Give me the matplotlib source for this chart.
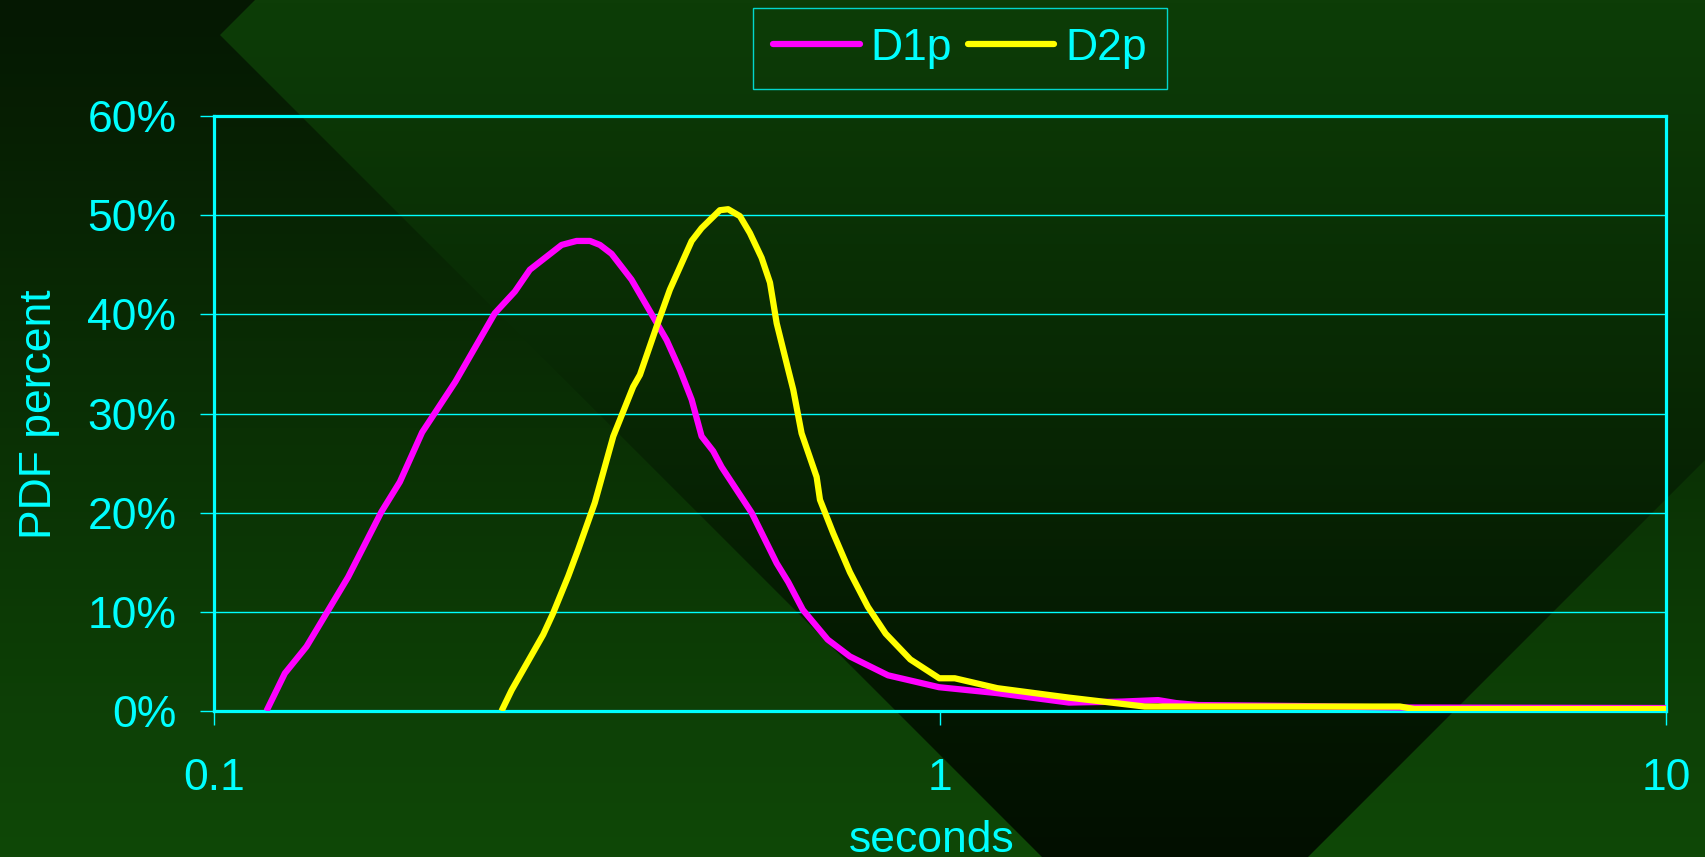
import numpy as np
import matplotlib
matplotlib.use("Agg")
import matplotlib.pyplot as plt
from matplotlib.patches import Polygon
from matplotlib.ticker import FuncFormatter, NullLocator, FixedLocator

# data (seconds, PDF percent)
d1p_sec = [0.1181, 0.1252, 0.1341, 0.1530, 0.1701, 0.1803, 0.1935, 0.2150, 0.2436,
           0.2597, 0.2723, 0.3012, 0.3158, 0.3295, 0.3401, 0.3529, 0.3759, 0.3986,
           0.4202, 0.4384, 0.4549, 0.4695, 0.4871, 0.5003, 0.5502, 0.5957, 0.6180,
           0.6473, 0.7004, 0.7515, 0.8479, 0.9968, 1.1995, 1.505, 1.781, 1.997,
           2.114, 2.268, 3.133, 4.3, 10.0]
d1p_pct = [0.0, 3.8, 6.5, 13.5, 20.1, 23.1, 28.1, 33.2, 40.1,
           42.3, 44.5, 47.0, 47.4, 47.4, 47.0, 46.1, 43.5, 40.3,
           37.4, 34.4, 31.4, 27.7, 26.2, 24.6, 20.0, 14.9, 13.0,
           10.2, 7.2, 5.5, 3.6, 2.4, 1.8, 0.85, 0.95, 1.1,
           0.8, 0.6, 0.5, 0.35, 0.3]

d2p_sec = [0.2489, 0.2570, 0.2841, 0.2933, 0.3076, 0.3175, 0.3346, 0.3548, 0.3779,
           0.3861, 0.4072, 0.4246, 0.4549, 0.4695, 0.4975, 0.5107, 0.5302, 0.5472,
           0.5679, 0.5832, 0.5957, 0.6180, 0.6279, 0.6447, 0.6762, 0.6834, 0.7129,
           0.7515, 0.7956, 0.8417, 0.9101, 0.9977, 1.048, 1.1995, 1.505, 1.914,
           4.3, 4.5, 10.0]
d2p_pct = [0.0, 2.1, 7.7, 9.9, 13.6, 16.3, 21.0, 27.7, 32.7,
           33.9, 38.8, 42.5, 47.4, 48.7, 50.5, 50.6, 49.9, 48.2,
           45.7, 43.2, 39.1, 34.4, 32.4, 28.0, 23.6, 21.3, 17.9,
           14.0, 10.5, 7.8, 5.2, 3.3, 3.3, 2.3, 1.35, 0.45,
           0.45, 0.2, 0.2]

series_names = ["D1p", "D2p"]
x_ticks = [0.1, 1, 10]
x_tick_labels = ["0.1", "1", "10"]
y_ticks = [0, 10, 20, 30, 40, 50, 60]

cyan = "#00ffff"
font = ["Liberation Sans", "DejaVu Sans"]
plt.rcParams["font.family"] = font

W, H = 1705, 857
fig = plt.figure(figsize=(W / 100, H / 100), dpi=100)

# slide background: vertical gradient plus a big rotated square with reversed gradient
bg = fig.add_axes([0, 0, 1, 1])
bg.set_xlim(0, W)
bg.set_ylim(H, 0)
bg.axis("off")

def vgrad(top, bottom):
    t = np.linspace(0, 1, 256)[:, None]
    top = np.array(matplotlib.colors.to_rgb(top))
    bottom = np.array(matplotlib.colors.to_rgb(bottom))
    img = top[None, None, :] * (1 - t[:, :, None]) + bottom[None, None, :] * t[:, :, None]
    return np.repeat(img, 2, axis=1)

bg.imshow(vgrad("#051802", "#0f4807"), extent=(0, W, H, 0), aspect="auto", zorder=0)
diamond = Polygon([(220, 35), (1175, -920), (2130, 35), (1175, 990)], closed=True,
                  transform=bg.transData, facecolor="none", edgecolor="none")
bg.add_patch(diamond)
im2 = bg.imshow(vgrad("#0d3d07", "#020f00"), extent=(0, W, H, 0), aspect="auto", zorder=1)
im2.set_clip_path(diamond)

ax = fig.add_axes([214 / W, 1 - 711 / H, (1666 - 214) / W, (711 - 116) / H])
ax.set_facecolor("none")
ax.set_xscale("log")
ax.set_xlim(0.1, 10)
ax.set_ylim(0, 60)

ax.plot(d1p_sec, d1p_pct, color="#ff00ff", lw=4.5, label=series_names[0],
        solid_joinstyle="round", solid_capstyle="butt", zorder=3)
ax.plot(d2p_sec, d2p_pct, color="#ffff00", lw=4.5, label=series_names[1],
        solid_joinstyle="round", solid_capstyle="butt", zorder=4)

ax.xaxis.set_major_locator(FixedLocator(x_ticks))
ax.xaxis.set_minor_locator(NullLocator())
ax.set_xticklabels(x_tick_labels)
ax.set_yticks(y_ticks)
ax.yaxis.set_major_formatter(FuncFormatter(lambda v, p: "%d%%" % v))
ax.yaxis.grid(True, color=cyan, lw=1.0)
ax.set_axisbelow(False)

for s in ax.spines.values():
    s.set_color(cyan)
    s.set_linewidth(2.3)

ax.tick_params(axis="y", colors=cyan, length=10, width=1, labelsize=32, pad=17)
ax.tick_params(axis="x", colors=cyan, length=10, width=1, labelsize=32, pad=24)

fig.text(932 / W, 5 / H, "seconds", color=cyan, fontsize=32, ha="center", va="baseline")
fig.text(40 / W, 1 - 414 / H, "PDF percent", color=cyan, fontsize=32,
         rotation=90, ha="center", va="center")

leg = fig.legend(loc="center", bbox_to_anchor=(960 / W, 1 - 48.5 / H), ncol=2,
                 fontsize=32, frameon=True, fancybox=False, handlelength=1.95,
                 handletextpad=0.25, columnspacing=0.35, borderpad=0.45,
                 labelcolor=cyan)
leg.get_frame().set_facecolor("none")
leg.get_frame().set_edgecolor(cyan)
leg.get_frame().set_linewidth(1)
for h in leg.get_lines():
    h.set_solid_capstyle("round")

fig.savefig("out.png", dpi=100)
